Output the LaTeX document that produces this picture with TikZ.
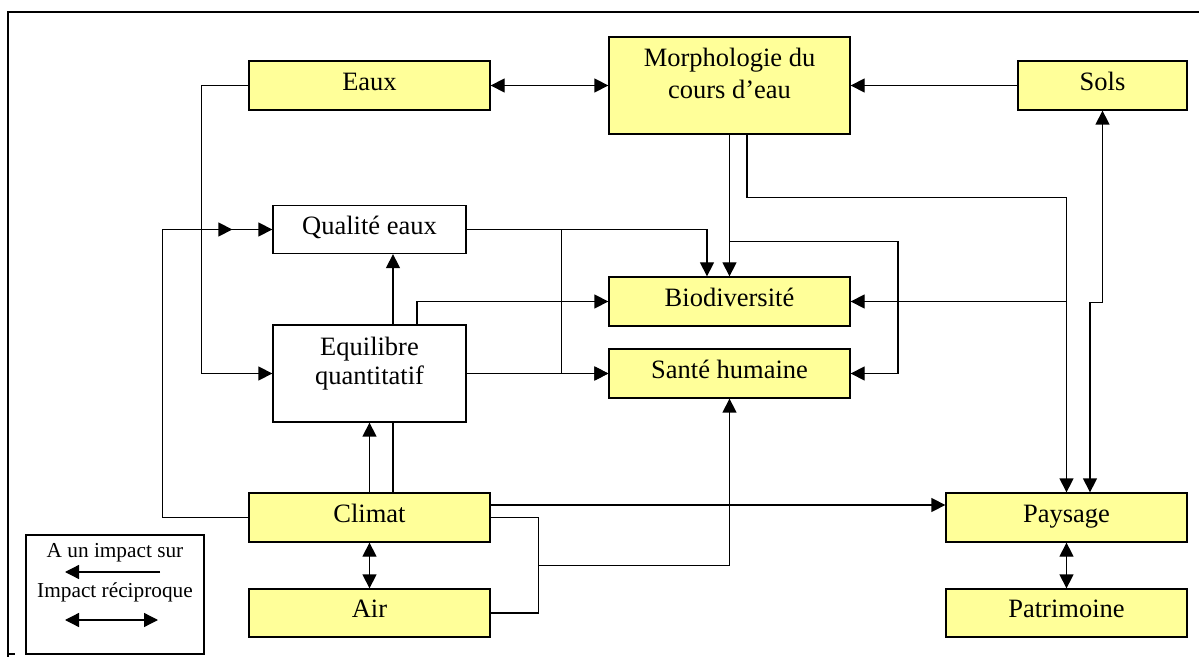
\documentclass[tikz,border=0pt]{standalone}
\usepackage{fontspec}
\setmainfont{Liberation Serif}
\usetikzlibrary{arrows.meta,calc}
\definecolor{jaune}{RGB}{255,255,153}
\begin{document}
\begin{tikzpicture}[x=0.5pt,y=-0.5pt,line width=0.65pt,
  >={Triangle[length=7pt,width=7pt]},
  boite/.style={draw,rectangle,inner sep=0pt,minimum width=120.5pt,minimum height=24.5pt,
    font=\fontsize{13.25}{15.5}\selectfont,text height=9.3pt,text depth=4.5pt},
  jboite/.style={boite,fill=jaune},
  texte/.style={inner sep=0pt,align=center},
  leg/.style={inner sep=0pt,anchor=base,font=\fontsize{10.65}{12}\selectfont}]
\useasboundingbox (0,0) rectangle (1199,657);

% Cadre
\draw[line width=0.75pt] (8,657) -- (8,12) -- (1199,12);
\draw (9,654) -- (15,654);

% Boites
\node[jboite] (eaux) at (369.5,85.5) {Eaux};
\node[jboite,minimum height=48.5pt] (morph) at (729.5,85.5) {};
\node[texte,anchor=north,font=\fontsize{13.25}{16}\selectfont] (morphtxt) at (729.5,47) {Morphologie du\\cours d’eau};
\node[jboite,minimum width=84.5pt] (sols) at (1102.5,85.5) {Sols};
\node[boite,minimum width=96.5pt,minimum height=24pt] (qual) at (369.5,229.5) {Qualité eaux};
\node[jboite] (bio) at (729.5,301.5) {Biodiversité};
\node[boite,minimum width=96.5pt,minimum height=48.5pt] (equi) at (369.5,373.5) {};
\node[texte,anchor=north,font=\fontsize{13.25}{14.5}\selectfont] (equitxt) at (369.5,336.5) {Equilibre\\quantitatif};
\node[jboite] (sante) at (729.5,373.5) {Santé humaine};
\node[jboite] (clim) at (369.5,517.5) {Climat};
\node[jboite] (pays) at (1066.5,517.5) {Paysage};
\node[jboite,minimum height=24pt] (air) at (369.5,613) {Air};
\node[jboite,minimum height=24pt] (patr) at (1066.5,613) {Patrimoine};

% Liens du haut
\draw[<->] (eaux) -- (morph);
\draw[->] (sols) -- (morph);
\draw[->] (eaux.west) -- ++(-47,0) |- (equi.west);
\coordinate (qm) at ($(qual.west)+(-40,0)$);
\draw[->] (clim.west) -- ++(-86,0) |- (qm);
\draw[->] (qm) -- (qual.west);

% Qualite et equilibre
\draw[->] (qual.east) -| ($(bio.north)+(-22.5,0)$);
\draw[->] (qual.east) -- ++(95,0) |- (sante.west);
\draw[->] (equi) -- (sante);
\draw[->] ($(equi.north)+(23.5,0)$) -- ($(qual.south)+(23.5,0)$);
\draw[->] ($(equi.north)+(47.5,0)$) |- (bio.west);

% Morphologie
\draw[->] (morph) -- (bio);
\coordinate (mb) at ($(morph.south)+(0,107)$);
\draw[->] (mb) -- ++(168.5,0) |- (sante.east);
\draw[->] ($(morph.south)+(17.5,0)$) -- ++(0,63) -| (pays.north);
\draw[->] (pays.north |- bio.east) -- (bio.east);
\draw[<->] (sols.south) -- ++(0,192) -| ($(pays.north)+(23.5,0)$);

% Climat
\draw[->] (clim) -- (equi);
\draw ($(clim.north)+(23.5,0)$) -- ($(equi.south)+(23.5,0)$);
\draw[->] ($(clim.east)+(0,-12.5)$) -- ($(pays.west)+(0,-12.5)$);
\coordinate (ca) at ($(clim.east)!0.5!(air.east)+(48,0)$);
\draw (clim.east) -- ++(48,0) |- (air.east);
\draw[->] (ca) -| (sante.south);
\draw[<->] (clim) -- (air);
\draw[<->] (pays) -- (patr);

% Legende
\node[draw,inner sep=0pt,minimum width=89pt,minimum height=59.5pt] (legende) at (115,594.5) {};
\node[leg] (leg1) at (115,557) {A un impact sur};
\node[leg] (leg2) at (115,597) {Impact réciproque};
\coordinate (l1a) at (160,572);
\coordinate (l1b) at (65,572);
\coordinate (l2a) at (65,620);
\coordinate (l2b) at (158,620);
\draw[->] (l1a) -- (l1b);
\draw[<->] (l2a) -- (l2b);

\end{tikzpicture}
\end{document}
